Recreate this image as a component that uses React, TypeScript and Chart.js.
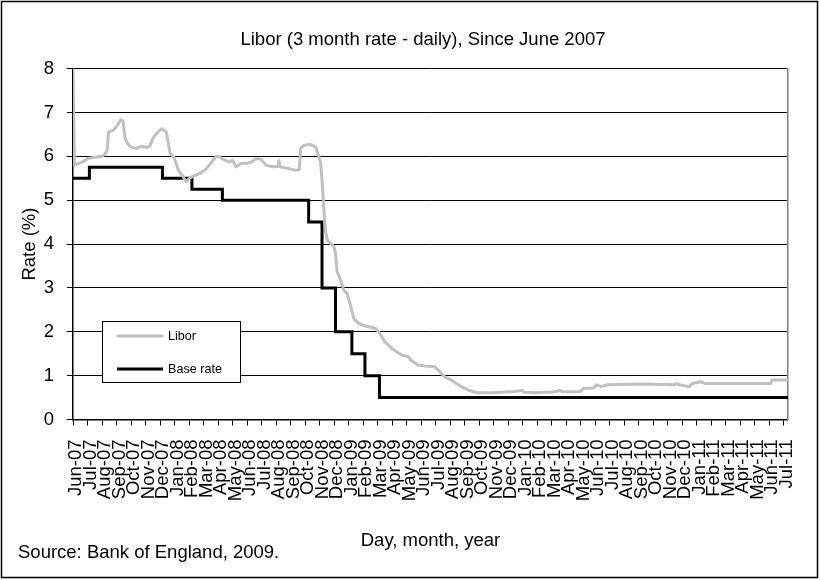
import React, { useEffect, useRef } from 'react';
import { Chart, registerables } from 'chart.js';
Chart.register(...registerables);

const MONTHS = [
  'Jun-07', 'Jul-07', 'Aug-07', 'Sep-07', 'Oct-07', 'Nov-07', 'Dec-07',
  'Jan-08', 'Feb-08', 'Mar-08', 'Apr-08', 'May-08', 'Jun-08', 'Jul-08', 'Aug-08', 'Sep-08', 'Oct-08', 'Nov-08', 'Dec-08',
  'Jan-09', 'Feb-09', 'Mar-09', 'Apr-09', 'May-09', 'Jun-09', 'Jul-09', 'Aug-09', 'Sep-09', 'Oct-09', 'Nov-09', 'Dec-09',
  'Jan-10', 'Feb-10', 'Mar-10', 'Apr-10', 'May-10', 'Jun-10', 'Jul-10', 'Aug-10', 'Sep-10', 'Oct-10', 'Nov-10', 'Dec-10',
  'Jan-11', 'Feb-11', 'Mar-11', 'Apr-11', 'May-11', 'Jun-11', 'Jul-11',
];

// x = months since 1 June 2007
const LIBOR_X = [
  0, 0.1, 0.4, 0.7, 1.0, 1.5, 2.0, 2.2, 2.36, 2.45, 2.8, 3.05, 3.3, 3.45, 3.6, 3.75, 4.0, 4.4, 4.7, 5.1,
  5.3, 5.56, 5.9, 6.13, 6.43, 6.7, 6.98, 7.27, 7.6, 7.8, 8.0, 8.3, 8.75, 9.2, 9.5, 9.85, 10.07, 10.35, 10.8, 11.0,
  11.26, 11.6, 11.95, 12.3, 12.63, 12.97, 13.3, 13.77, 14.12, 14.2, 14.28, 14.9, 15.4, 15.6, 15.7, 15.93, 16.4, 16.73, 16.96, 17.08,
  17.19, 17.3, 17.42, 17.53, 17.99, 18.1, 18.21, 18.45, 18.67, 18.9, 19.13, 19.36, 19.7, 20.16, 20.84, 21.07, 21.52, 21.98, 22.66, 23.12,
  23.34, 23.8, 24.26, 24.95, 25.29, 25.63, 26.08, 26.76, 27.34, 27.9, 28.82, 30.18, 30.98, 31.1, 32.0, 32.5, 33.0, 33.6, 33.8, 34.96,
  35.2, 35.9, 36.1, 36.4, 36.8, 39.2, 41.4, 41.6, 41.8, 42.5, 42.7, 43.3, 43.6, 45.0, 48.1, 48.2, 49.3,
];
const LIBOR_Y = [
  8.0, 5.8, 5.84, 5.88, 5.95, 5.98, 6.0, 6.05, 6.14, 6.55, 6.6, 6.7, 6.84, 6.8, 6.4, 6.3, 6.21, 6.18, 6.23, 6.2,
  6.24, 6.44, 6.57, 6.63, 6.56, 6.06, 5.97, 5.68, 5.53, 5.42, 5.49, 5.55, 5.61, 5.72, 5.84, 5.99, 6.0, 5.93, 5.87, 5.91,
  5.76, 5.84, 5.84, 5.87, 5.95, 5.93, 5.8, 5.76, 5.77, 5.9, 5.76, 5.72, 5.68, 5.7, 6.18, 6.25, 6.27, 6.21, 5.99, 5.84,
  5.38, 4.77, 4.28, 4.09, 3.94, 3.79, 3.37, 3.18, 2.95, 2.87, 2.61, 2.3, 2.19, 2.13, 2.08, 2.0, 1.77, 1.62, 1.47, 1.43,
  1.34, 1.24, 1.22, 1.2, 1.09, 0.97, 0.9, 0.75, 0.66, 0.61, 0.61, 0.63, 0.66, 0.62, 0.61, 0.62, 0.62, 0.66, 0.63, 0.63,
  0.71, 0.72, 0.79, 0.75, 0.79, 0.81, 0.79, 0.82, 0.79, 0.75, 0.82, 0.86, 0.82, 0.82, 0.82, 0.9, 0.9,
];

const BASE_X = [0, 1.13, 6.17, 8.2, 10.3, 16.25, 17.17, 18.1, 19.23, 20.13, 21.13, 49.3];
const BASE_Y = [5.5, 5.75, 5.5, 5.25, 5.0, 4.5, 3.0, 2.0, 1.5, 1.0, 0.5, 0.5];

const SERIES_NAMES = ['Libor', 'Base rate'];
const TITLE = 'Libor (3 month rate - daily), Since June 2007';
const X_TITLE = 'Day, month, year';
const Y_TITLE = 'Rate (%)';
const SOURCE = 'Source: Bank of England, 2009.';

const FONT = "'Liberation Sans', Arial, sans-serif";
const FS = 18.5;

export default function App() {
  const ref = useRef<HTMLCanvasElement>(null);

  useEffect(() => {
    if (!ref.current) return;
    const extras = {
      id: 'extras',
      afterDraw(chart: any) {
        const ctx = chart.ctx as CanvasRenderingContext2D;
        ctx.save();
        // outer frame
        ctx.strokeStyle = '#000';
        ctx.lineWidth = 1.5;
        ctx.strokeRect(1.5, 1.5, 816, 576);
        // legend box
        ctx.fillStyle = '#fff';
        ctx.fillRect(102, 321.5, 138, 61);
        ctx.lineWidth = 1;
        ctx.strokeStyle = '#000';
        ctx.strokeRect(102.5, 321.5, 138, 61);
        const ds = chart.data.datasets;
        const rows = [336, 369];
        ds.forEach((d: any, i: number) => {
          ctx.strokeStyle = d.borderColor;
          ctx.lineWidth = 3;
          ctx.beginPath();
          ctx.moveTo(117, rows[i]);
          ctx.lineTo(163, rows[i]);
          ctx.stroke();
          ctx.fillStyle = '#000';
          ctx.font = `12.6px ${FONT}`;
          ctx.textAlign = 'left';
          ctx.textBaseline = 'middle';
          ctx.fillText(d.label, 168, rows[i] + 0.5);
        });
        // source
        ctx.font = `${FS}px ${FONT}`;
        ctx.fillStyle = '#000';
        ctx.textAlign = 'left';
        ctx.textBaseline = 'middle';
        ctx.fillText(SOURCE, 18, 553);
        ctx.restore();
      },
    };

    const chart = new Chart(ref.current, {
      type: 'line',
      data: {
        datasets: [
          {
            label: SERIES_NAMES[0],
            data: LIBOR_X.map((x, i) => ({ x, y: LIBOR_Y[i] })),
            borderColor: '#c0c0c0',
            borderWidth: 3,
            borderJoinStyle: 'round',
            pointRadius: 0,
            tension: 0,
            xAxisID: 'x',
            yAxisID: 'y',
          },
          {
            label: SERIES_NAMES[1],
            data: BASE_X.map((x, i) => ({ x, y: BASE_Y[i] })),
            borderColor: '#000000',
            borderWidth: 3,
            borderJoinStyle: 'miter',
            pointRadius: 0,
            stepped: 'before',
            xAxisID: 'x',
            yAxisID: 'y',
          },
        ],
      },
      options: {
        animation: false,
        responsive: false,
        devicePixelRatio: 1,
        layout: { padding: { left: 26, right: 0, top: 0, bottom: 0 } },
        plugins: {
          legend: { display: false },
          tooltip: { enabled: false },
          title: {
            display: true,
            text: TITLE,
            color: '#000',
            font: { family: FONT, size: FS, weight: 'normal' },
            padding: { top: 29, bottom: 17.4 },
          },
        },
        scales: {
          x: {
            type: 'linear',
            position: 'bottom',
            min: 0,
            max: 49.3,
            afterBuildTicks: (axis: any) => {
              axis.ticks = MONTHS.map((_, i) => ({ value: i }));
            },
            afterFit: (axis: any) => {
              axis.height = 160.5;
            },
            ticks: {
              autoSkip: false,
              maxRotation: 90,
              minRotation: 90,
              padding: 14,
              labelOffset: 3,
              color: '#000',
              font: { family: FONT, size: FS },
              callback: (v: any) => MONTHS[v as number] ?? '',
            },
            grid: {
              drawOnChartArea: false,
              drawTicks: true,
              tickLength: 6,
              color: '#000',
              lineWidth: 1,
            },
            border: { display: true, color: '#000', width: 1.5 },
            title: {
              display: true,
              text: X_TITLE,
              color: '#000',
              font: { family: FONT, size: FS },
              padding: { top: 0, bottom: 28 },
            },
          },
          y: {
            type: 'linear',
            position: 'left',
            min: 0,
            max: 8,
            afterFit: (axis: any) => {
              axis.width = 47;
            },
            ticks: {
              stepSize: 1,
              padding: 13,
              color: '#000',
              font: { family: FONT, size: FS },
            },
            grid: {
              color: '#000',
              lineWidth: 1,
              drawTicks: true,
              tickLength: 6,
            },
            border: { display: true, color: '#000', width: 1.5 },
            title: {
              display: true,
              text: Y_TITLE,
              color: '#000',
              font: { family: FONT, size: FS },
              padding: { top: -7, bottom: 0 },
            },
          },
          yRight: {
            type: 'linear',
            position: 'right',
            display: true,
            afterFit: (axis: any) => {
              axis.width = 28;
            },
            ticks: { display: false },
            grid: { display: false, drawTicks: false },
            border: { display: true, color: '#808080', width: 1.5 },
          },
        },
      } as any,
      plugins: [extras],
    });
    return () => chart.destroy();
  }, []);

  return (
    <div style={{ position: 'absolute', left: 0, top: 0, width: 820, height: 580, background: '#fff' }}>
      <canvas ref={ref} width={820} height={580} style={{ display: 'block' }} />
    </div>
  );
}
